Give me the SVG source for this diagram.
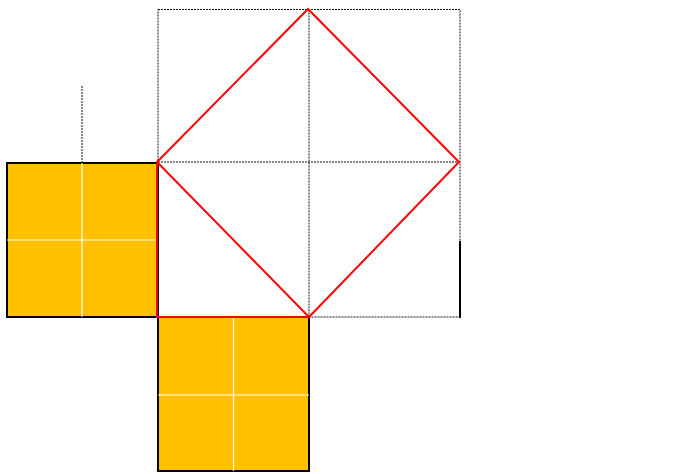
<svg xmlns="http://www.w3.org/2000/svg" width="683" height="474" viewBox="0 0 683 474">
<style>
.sq{fill:#FFC000;stroke:#000;stroke-width:2}
.wl{stroke:#fff;stroke-width:1.2;fill:none}
.dash{stroke:#111;stroke-width:1;stroke-dasharray:2 1;fill:none}
.red{stroke:#ff0000;stroke-width:2;fill:none}
.blk{stroke:#000;stroke-width:2;fill:none}
</style>
<rect width="683" height="474" fill="#fff"/>
<g id="grid">
<rect class="dash" x="158" y="9.5" width="302" height="307.5"/>
<line class="dash" x1="158" y1="162" x2="460" y2="162"/>
<line class="dash" x1="309" y1="9.5" x2="309" y2="317"/>
<line class="dash" x1="82" y1="86" x2="82" y2="162"/>
</g>
<g id="left-square">
<rect class="sq" x="7" y="163" width="150" height="154"/>
<line class="wl" x1="82" y1="163" x2="82" y2="317"/>
<line class="wl" x1="7" y1="240" x2="155" y2="240"/>
</g>
<g id="bottom-square">
<rect class="sq" x="158" y="317" width="151" height="154"/>
<line class="wl" x1="233.5" y1="317" x2="233.5" y2="471"/>
<line class="wl" x1="158" y1="395" x2="309" y2="395"/>
</g>
<g id="middle-square">
<line class="blk" x1="158" y1="162" x2="158" y2="318"/>
<polyline class="red" points="157,162 157,317 309,317"/>
</g>
<g id="diamond">
<polygon class="red" points="308,9 459,162 309,317 157,162"/>
</g>
<g id="right-edge">
<line class="blk" x1="460" y1="241" x2="460" y2="318"/>
</g>
</svg>
